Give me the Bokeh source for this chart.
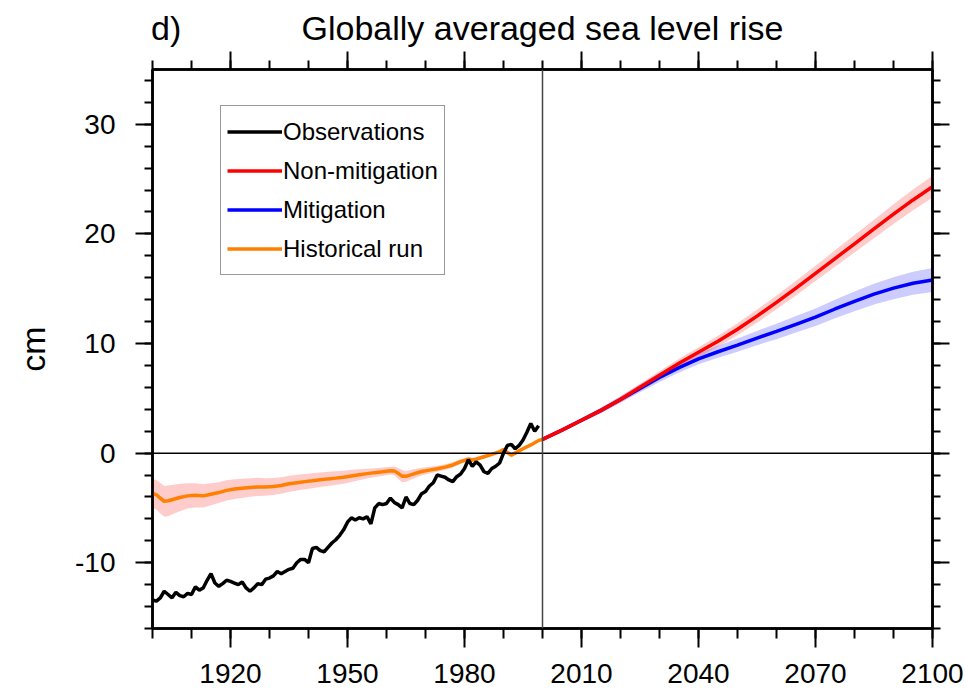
from bokeh.plotting import figure
from bokeh.models import (Range1d, LinearAxis, FixedTicker, Span, Legend, LegendItem,
                          CustomJSTickFormatter)
from bokeh.embed import file_html
from bokeh.resources import INLINE

FONT = "Liberation Sans"

# Observed global mean sea level, annual values (cm)
obs_years = list(range(1900, 2000))
obs_cm = [
    -13.4, -13.5, -13.2, -12.6, -12.9, -13.2, -12.7, -13.0, -13.1, -12.8,
    -12.9, -12.2, -12.5, -12.3, -11.6, -11.0, -11.85, -12.15, -11.9, -11.6,
    -11.7, -11.85, -12.0, -11.75, -12.3, -12.6, -12.3, -11.9, -12.0, -11.5,
    -11.4, -11.2, -10.8, -11.0, -10.8, -10.6, -10.5, -10.0, -9.7, -9.7,
    -10.0, -8.7, -8.6, -8.9, -9.0, -8.6, -8.2, -7.9, -7.5, -7.0,
    -6.3, -5.9, -6.1, -5.9, -6.0, -5.8, -6.45, -5.0, -4.6, -4.7,
    -4.6, -4.1, -4.5, -4.7, -5.0, -4.0, -4.6, -4.7, -4.3, -3.7,
    -3.5, -3.0, -2.7, -2.0, -2.1, -2.2, -2.45, -2.6, -2.15, -1.9,
    -1.4, -0.6, -1.2, -0.8, -1.1, -1.7, -1.85, -1.4, -1.2, -0.9,
    0.0, 0.7, 0.8, 0.4, 0.7, 1.2, 1.9, 2.7, 2.0, 2.5,
]

# Historical model run: ensemble mean and half-spread (cm)
hist_years = [
    1900, 1901, 1902, 1903, 1904, 1905, 1907, 1909, 1911, 1913,
    1915, 1917, 1919, 1921, 1923, 1925, 1927, 1929, 1931, 1933,
    1935, 1937, 1939, 1941, 1943, 1945, 1947, 1949, 1951, 1953,
    1955, 1957, 1959, 1961, 1962, 1963, 1964, 1965, 1967, 1969,
    1971, 1973, 1975, 1977, 1979, 1981, 1982, 1983, 1985, 1987,
    1989, 1990, 1991, 1992, 1993, 1995, 1997, 1999, 2000,
]
hist_cm = [
    -3.67, -3.8, -4.1, -4.4, -4.35, -4.25, -4.05, -3.9, -3.85, -3.9,
    -3.75, -3.6, -3.4, -3.28, -3.21, -3.14, -3.08, -3.1, -3.05, -2.95,
    -2.8, -2.7, -2.6, -2.52, -2.43, -2.35, -2.28, -2.2, -2.08, -1.97,
    -1.87, -1.78, -1.7, -1.6, -1.62, -1.85, -2.1, -2.12, -1.9, -1.68,
    -1.55, -1.43, -1.28, -1.08, -0.78, -0.55, -0.62, -0.55, -0.33, -0.12,
    0.13, 0.33, 0.05, -0.18, 0.0, 0.4, 0.75, 1.15, 1.25,
]
hist_spread = [
    1.3, 1.35, 1.4, 1.4, 1.4, 1.35, 1.25, 1.15, 1.1, 1.05,
    1.0, 0.95, 0.92, 0.9, 0.88, 0.85, 0.83, 0.8, 0.78, 0.76,
    0.74, 0.72, 0.7, 0.68, 0.66, 0.64, 0.62, 0.6, 0.56, 0.5,
    0.45, 0.4, 0.38, 0.36, 0.4, 0.5, 0.55, 0.5, 0.42, 0.35,
    0.3, 0.28, 0.26, 0.24, 0.22, 0.2, 0.2, 0.2, 0.18, 0.16,
    0.15, 0.15, 0.2, 0.2, 0.16, 0.13, 0.12, 0.1, 0.1,
]

# Scenario projections, 2000-2100 (cm)
proj_years = [2000, 2005, 2010, 2015, 2020, 2025, 2030, 2035, 2040, 2045, 2050,
              2055, 2060, 2065, 2070, 2075, 2080, 2085, 2090, 2095, 2100]
nonmit_cm = [1.25, 2.1, 3.0, 3.9, 4.9, 6.0, 7.1, 8.2, 9.2, 10.2, 11.3,
             12.5, 13.75, 15.05, 16.4, 17.75, 19.1, 20.45, 21.8, 23.1, 24.3]
nonmit_spread = [0.1, 0.15, 0.2, 0.25, 0.28, 0.32, 0.36, 0.4, 0.45, 0.5, 0.55,
                 0.6, 0.63, 0.67, 0.7, 0.75, 0.8, 0.85, 0.9, 0.95, 1.0]
mit_cm = [1.25, 2.1, 3.0, 3.9, 4.9, 5.9, 6.9, 7.8, 8.6, 9.25, 9.85,
          10.5, 11.1, 11.75, 12.4, 13.15, 13.85, 14.5, 15.05, 15.5, 15.8]
mit_spread = [0.1, 0.15, 0.2, 0.25, 0.3, 0.35, 0.4, 0.45, 0.5, 0.55, 0.6,
              0.65, 0.7, 0.75, 0.8, 0.85, 0.9, 0.95, 1.0, 1.05, 1.1]

# Axis ticks
x_major = [1920, 1950, 1980, 2010, 2040, 2070, 2100]
x_minor = list(range(1900, 2101, 10))
y_major = [-10, 0, 10, 20, 30]
y_minor = list(range(-16, 35, 2))

# Heading texts, set along the top edge (panel letter at the left, title centred)
heading_pos = [1903.5, 2000]
heading_text = ["d)", "Globally averaged sea level rise"]

p = figure(width=965, height=694, output_backend="svg", toolbar_location=None,
           x_range=Range1d(1900, 2100), y_range=Range1d(-16, 35),
           min_border_left=152, min_border_right=33,
           min_border_top=69, min_border_bottom=66)
p.xgrid.visible = False
p.ygrid.visible = False
p.outline_line_color = "black"
p.outline_line_width = 2.5
p.background_fill_color = "white"
p.border_fill_color = "white"


def style_axis(ax, major, minor, major_len, minor_len):
    ax.ticker = FixedTicker(ticks=major, minor_ticks=minor)
    ax.axis_line_color = "black"
    ax.axis_line_width = 2.5
    ax.major_tick_line_color = "black"
    ax.minor_tick_line_color = "black"
    ax.major_tick_line_width = 2
    ax.minor_tick_line_width = 2
    ax.major_tick_in = 0
    ax.minor_tick_in = 0
    ax.major_tick_out = major_len
    ax.minor_tick_out = minor_len
    ax.major_label_text_font = FONT
    ax.major_label_text_font_size = "28px"
    ax.major_label_text_color = "black"


def hide_labels(ax):
    ax.formatter = CustomJSTickFormatter(code="return ''")
    ax.major_label_text_font_size = "0px"
    ax.major_label_standoff = 0


xb = p.xaxis[0]
style_axis(xb, x_major, x_minor, 19, 10)
xb.major_label_standoff = 16

yl = p.yaxis[0]
style_axis(yl, y_major, y_minor, 17, 8)
yl.major_label_standoff = 20
yl.major_label_overrides = {v: str(v) for v in y_major}
yl.axis_label = "cm"
yl.axis_label_text_font = FONT
yl.axis_label_text_font_size = "34px"
yl.axis_label_text_font_style = "normal"
yl.axis_label_text_color = "black"
yl.axis_label_standoff = 20

xt = LinearAxis()
style_axis(xt, x_major, x_minor, 18, 9)
hide_labels(xt)
p.add_layout(xt, "above")

yr = LinearAxis()
style_axis(yr, y_major, y_minor, 17, 8)
hide_labels(yr)
p.add_layout(yr, "right")

# Heading row: an unticked axis carrying the panel letter and the title
head = LinearAxis(ticker=FixedTicker(ticks=heading_pos, minor_ticks=[]))
head.major_label_overrides = dict(zip(heading_pos, heading_text))
head.axis_line_color = None
head.major_tick_line_color = None
head.minor_tick_line_color = None
head.major_tick_out = 0
head.major_tick_in = 0
head.minor_tick_out = 0
head.major_label_standoff = 5
head.major_label_text_font = FONT
head.major_label_text_font_size = "34px"
head.major_label_text_color = "black"
p.add_layout(head, "above")

# Reference lines: zero level and start of the projections
p.add_layout(Span(location=0, dimension="width", line_color="black", line_width=1.5))
p.add_layout(Span(location=2000, dimension="height", line_color="#444444", line_width=1.5))

# Spread bands
p.varea(x=hist_years,
        y1=[m - s for m, s in zip(hist_cm, hist_spread)],
        y2=[m + s for m, s in zip(hist_cm, hist_spread)],
        fill_color="#ff0000", fill_alpha=0.2)
p.varea(x=proj_years,
        y1=[m - s for m, s in zip(mit_cm, mit_spread)],
        y2=[m + s for m, s in zip(mit_cm, mit_spread)],
        fill_color="#0000ff", fill_alpha=0.2)
p.varea(x=proj_years,
        y1=[m - s for m, s in zip(nonmit_cm, nonmit_spread)],
        y2=[m + s for m, s in zip(nonmit_cm, nonmit_spread)],
        fill_color="#ff0000", fill_alpha=0.2)

# Series lines
r_hist = p.line(hist_years, hist_cm, line_color="#ff8000", line_width=3.5)
r_obs = p.line(obs_years, obs_cm, line_color="black", line_width=3.5)
r_mit = p.line(proj_years, mit_cm, line_color="#0000ff", line_width=3.5)
r_non = p.line(proj_years, nonmit_cm, line_color="#ff0000", line_width=3.5)

legend = Legend(items=[
    LegendItem(label="Observations", renderers=[r_obs]),
    LegendItem(label="Non-mitigation", renderers=[r_non]),
    LegendItem(label="Mitigation", renderers=[r_mit]),
    LegendItem(label="Historical run", renderers=[r_hist]),
], location=(68, 353))
legend.margin = 0
legend.padding = 6
legend.spacing = 0
legend.glyph_width = 55
legend.glyph_height = 39
legend.label_height = 39
legend.label_standoff = 1
legend.label_text_font = FONT
legend.label_text_font_size = "24px"
legend.label_text_color = "black"
legend.label_text_baseline = "middle"
legend.border_line_color = "#333333"
legend.border_line_width = 1
legend.background_fill_color = "white"
legend.background_fill_alpha = 1.0
p.add_layout(legend)

open("out.html", "w").write(file_html(p, INLINE))
